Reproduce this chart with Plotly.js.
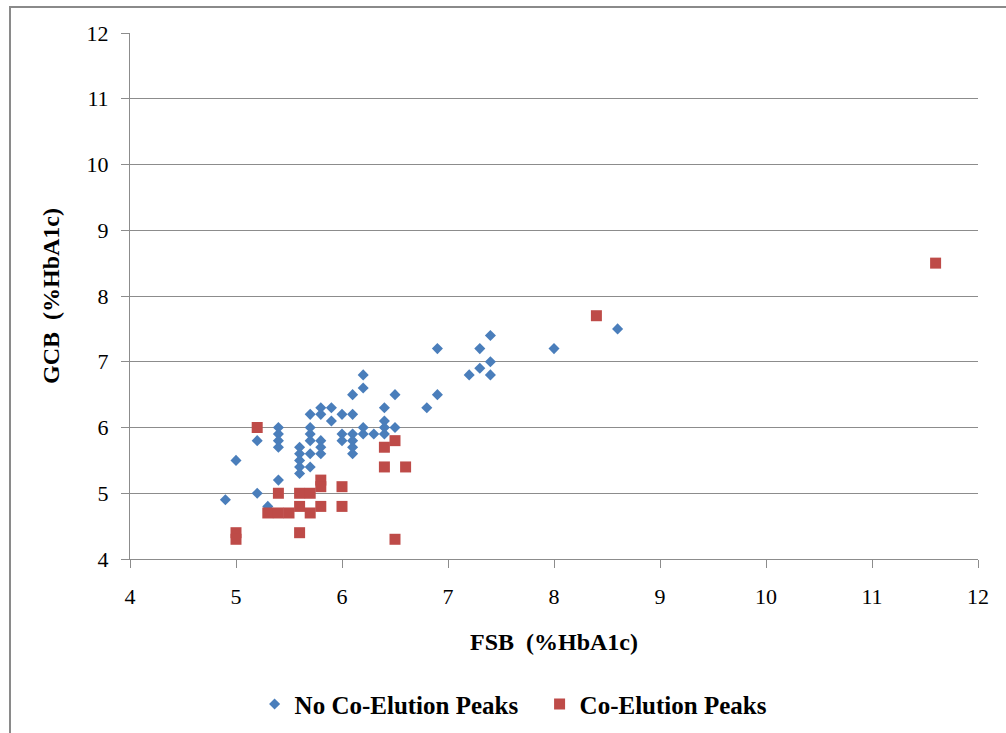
<!DOCTYPE html>
<html>
<head>
<meta charset="utf-8">
<script src="https://cdn.plot.ly/plotly-3.0.1.min.js"></script>
<style>
  html, body { margin: 0; padding: 0; background: #fff; }
  #wrap { position: relative; width: 1006px; height: 733px; overflow: hidden; }
  #chart { width: 1006px; height: 733px; }
  #frame { position: absolute; left: 9px; top: 6px; width: 1020px; height: 760px;
           border: 2px solid #8a8a8a; pointer-events: none; box-sizing: border-box; }
</style>
</head>
<body>
<div id="wrap">
  <div id="chart"></div>
  <div id="frame"></div>
</div>
<script>
// No Co-Elution Peaks (blue diamonds)
const noCoX = [4.9,5.0,5.2,5.2,5.3,5.4,5.4,5.4,5.4,5.4,5.6,5.6,5.6,5.6,5.6,5.7,5.7,5.7,5.7,5.7,5.7,5.8,5.8,5.8,5.8,5.8,5.9,5.9,6.0,6.0,6.0,6.1,6.1,6.1,6.1,6.1,6.1,6.2,6.2,6.2,6.2,6.3,6.4,6.4,6.4,6.4,6.5,6.5,6.8,6.9,6.9,7.2,7.3,7.3,7.4,7.4,7.4,8.0,8.6];
const noCoY = [4.9,5.5,5.8,5.0,4.8,6.0,5.9,5.8,5.7,5.2,5.7,5.6,5.5,5.4,5.3,6.2,6.0,5.9,5.8,5.6,5.4,6.3,6.2,5.8,5.7,5.6,6.3,6.1,6.2,5.9,5.8,6.5,6.2,5.9,5.8,5.7,5.6,6.8,6.6,6.0,5.9,5.9,6.3,6.1,6.0,5.9,6.5,6.0,6.3,6.5,7.2,6.8,6.9,7.2,7.4,7.0,6.8,7.2,7.5];
// Co-Elution Peaks (red squares)
const coX = [5.0,5.0,5.2,5.3,5.4,5.4,5.5,5.6,5.6,5.6,5.7,5.7,5.8,5.8,5.8,6.0,6.0,6.4,6.4,6.5,6.5,6.6,8.4,11.6];
const coY = [4.4,4.3,6.0,4.7,5.0,4.7,4.7,5.0,4.8,4.4,5.0,4.7,5.2,5.1,4.8,5.1,4.8,5.7,5.4,5.8,4.3,5.4,7.7,8.5];

const seriesNames = ["No Co-Elution Peaks", "Co-Elution Peaks"];
const xTitle = "FSB  (%HbA1c)";
const yTitle = "GCB  (%HbA1c)";
const tickVals = [4,5,6,7,8,9,10,11,12];

const serif = "Liberation Serif";
const gridCol = "#8c8c8c";

const traces = [
  { x: noCoX, y: noCoY, type: "scatter", mode: "markers", name: "<b>" + seriesNames[0] + "</b>",
    marker: { symbol: "diamond", size: 8.5, color: "#4a7ebb", line: { width: 0 } } },
  { x: coX, y: coY, type: "scatter", mode: "markers", name: "<b>" + seriesNames[1] + "</b>",
    marker: { symbol: "square", size: 11, color: "#be4b48", line: { width: 0 } } }
];

const layout = {
  width: 1006, height: 733,
  margin: { l: 130, r: 28, t: 33, b: 174, pad: 0, autoexpand: false },
  paper_bgcolor: "#ffffff", plot_bgcolor: "#ffffff",
  showlegend: true,
  font: { family: serif, color: "#000" },
  xaxis: {
    range: [4, 12], tickvals: tickVals, ticktext: tickVals.map(String),
    showgrid: false, zeroline: false, showline: true, linecolor: gridCol, linewidth: 1,
    ticks: "outside", ticklen: 8, tickcolor: gridCol, tickwidth: 1,
    ticklabelstandoff: 10,
    tickfont: { family: serif, size: 22, color: "#000" },
    title: { text: "<b>" + xTitle + "</b>", font: { family: serif, size: 24, color: "#000" }, standoff: 24 },
    automargin: false, fixedrange: true
  },
  yaxis: {
    range: [4, 12], tickvals: tickVals, ticktext: tickVals.map(String),
    showgrid: true, gridcolor: gridCol, gridwidth: 1, zeroline: false,
    showline: true, linecolor: gridCol, linewidth: 1,
    ticks: "outside", ticklen: 8, tickcolor: gridCol, tickwidth: 1,
    ticklabelstandoff: 8,
    tickfont: { family: serif, size: 22, color: "#000" },
    title: { text: "<b>" + yTitle + "</b>", font: { family: serif, size: 24, color: "#000" }, standoff: 20 },
    automargin: false, fixedrange: true
  },
  legend: {
    orientation: "h", x: 0.483, xanchor: "center", y: -0.276, yanchor: "middle",
    font: { family: serif, size: 25, color: "#000" },
    bgcolor: "rgba(0,0,0,0)", itemwidth: 30,
    entrywidth: 240, entrywidthmode: "pixels"
  }
};

Plotly.newPlot("chart", traces, layout, { displayModeBar: false, staticPlot: true });
</script>
</body>
</html>
